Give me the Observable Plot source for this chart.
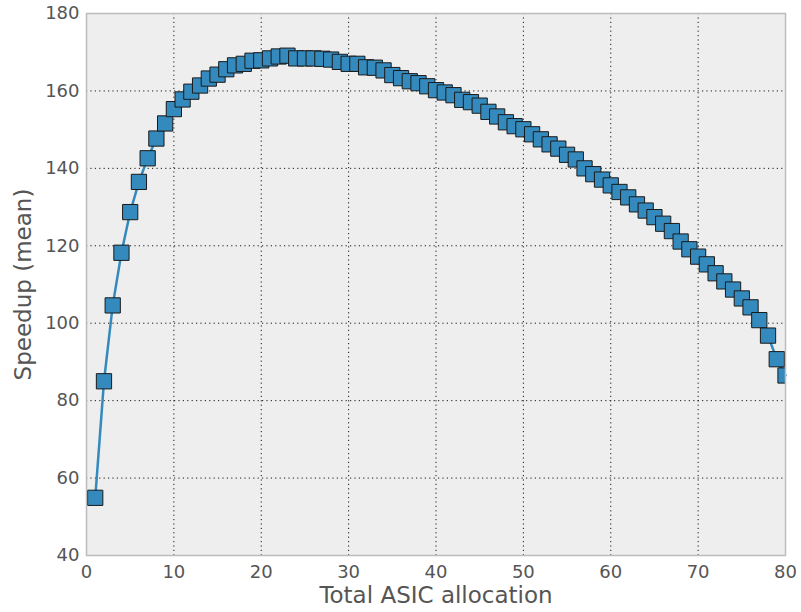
<!DOCTYPE html>
<html>
<head>
<meta charset="utf-8">
<script src="https://cdn.jsdelivr.net/npm/d3@7"></script>
<script src="https://cdn.jsdelivr.net/npm/@observablehq/plot@0.6"></script>
<style>
  html, body { margin: 0; padding: 0; background: #ffffff; }
  #chart svg { display: block; }
</style>
</head>
<body>
<div id="chart"></div>
<script>
const allocation = [1,2,3,4,5,6,7,8,9,10,11,12,13,14,15,16,17,18,19,20,
  21,22,23,24,25,26,27,28,29,30,31,32,33,34,35,36,37,38,39,40,
  41,42,43,44,45,46,47,48,49,50,51,52,53,54,55,56,57,58,59,60,
  61,62,63,64,65,66,67,68,69,70,71,72,73,74,75,76,77,78,79,80];
const speedup = [54.9,85.0,104.6,118.2,128.7,136.5,142.6,147.7,151.6,155.3,
  157.8,159.8,161.4,163.2,164.2,165.6,166.6,167.0,167.8,167.9,
  168.4,168.9,169.1,168.4,168.4,168.4,168.3,168.1,167.5,167.0,
  167.0,166.1,166.0,165.3,164.1,163.3,162.5,162.0,161.2,160.2,
  159.6,158.9,157.7,157.1,156.2,154.6,153.4,151.9,150.9,150.1,
  148.8,147.5,146.2,145.1,143.5,142.3,140.0,138.5,137.1,135.6,
  133.9,132.5,130.7,129.1,127.4,125.7,123.8,121.1,119.1,117.2,
  115.2,112.9,110.8,108.7,106.4,104.1,100.8,96.8,90.7,86.5];
const xTicks = [0,10,20,30,40,50,60,70,80];
const yTicks = [40,60,80,100,120,140,160,180];
const xLabel = "Total ASIC allocation";
const yLabel = "Speedup (mean)";

const data = allocation.map((a, i) => ({allocation: a, speedup: speedup[i]}));
const color = "#348ABD";

const chart = Plot.plot({
  width: 801,
  height: 612,
  marginLeft: 86,
  marginRight: 16,
  marginTop: 13,
  marginBottom: 57,
  style: {fontFamily: "DejaVu Sans", background: "#ffffff"},
  x: {domain: [0, 80]},
  y: {domain: [40, 180]},
  marks: [
    Plot.frame({fill: "#eeeeee", stroke: null}),
    Plot.ruleX(xTicks.slice(1, -1), {stroke: "#000", strokeWidth: 1, strokeDasharray: "1.2,3.2", strokeOpacity: 0.9}),
    Plot.ruleY(yTicks.slice(1, -1), {stroke: "#000", strokeWidth: 1, strokeDasharray: "1.2,3.2", strokeOpacity: 0.9}),
    Plot.line(data, {x: "allocation", y: "speedup", stroke: color, strokeWidth: 2.5}),
    Plot.dot(data, {x: "allocation", y: "speedup", symbol: "square", r: 8.6, fill: color, stroke: "#1a1a1a", strokeWidth: 1, clip: true}),
    Plot.frame({stroke: "#bcbcbc", strokeWidth: 1.5}),
    Plot.axisX(xTicks, {tickSize: 0, tickPadding: 10, fontSize: 18, fill: "#555555", label: null}),
    Plot.axisY(yTicks, {tickSize: 0, tickPadding: 7, fontSize: 18, fill: "#555555", label: null}),
    Plot.text([xLabel], {frameAnchor: "bottom", textAnchor: "middle", lineAnchor: "middle", dy: 40, fontSize: 23, fill: "#555555"}),
    Plot.text([yLabel], {frameAnchor: "left", textAnchor: "middle", lineAnchor: "middle", dx: -63, rotate: -90, fontSize: 23, fill: "#555555"})
  ]
});
document.getElementById("chart").appendChild(chart);
</script>
</body>
</html>
